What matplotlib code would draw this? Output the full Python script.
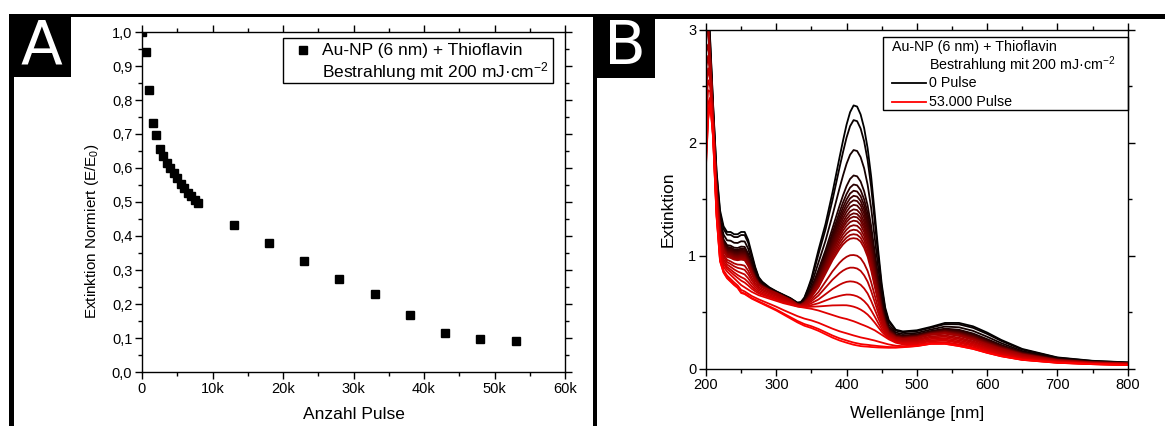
import numpy as np
import matplotlib
matplotlib.use("Agg")
import matplotlib.pyplot as plt
from matplotlib.patches import Rectangle
from matplotlib.lines import Line2D
from matplotlib.ticker import MultipleLocator, FuncFormatter

plt.rcParams['font.family'] = ['Liberation Sans', 'DejaVu Sans']
plt.rcParams['mathtext.default'] = 'regular'

# ---------------- Panel A data ----------------
pulses = [0, 500, 1000, 1500, 2000, 2500, 3000, 3500, 4000, 4500, 5000, 5500,
          6000, 6500, 7000, 7500, 8000, 13000, 18000, 23000, 28000, 33000,
          38000, 43000, 48000, 53000]
ext_norm = [1.0, 0.94, 0.829, 0.731, 0.697, 0.655, 0.636, 0.616, 0.599, 0.584,
            0.570, 0.553, 0.540, 0.527, 0.518, 0.506, 0.498, 0.431, 0.380,
            0.326, 0.274, 0.229, 0.169, 0.116, 0.097, 0.091]
xticks_A = [0, 10000, 20000, 30000, 40000, 50000, 60000]
xticklabels_A = ["0", "10k", "20k", "30k", "40k", "50k", "60k"]

# ---------------- Panel B data ----------------
wavelength = [200, 203, 206, 210, 215, 220, 225, 230, 235, 240, 245, 250, 255,
              260, 265, 270, 275, 280, 290, 300, 310, 320, 330, 335, 340, 345,
              350, 360, 370, 380, 390, 395, 400, 405, 410, 415, 420, 425, 430,
              435, 440, 445, 450, 455, 460, 470,
              480, 500, 520, 540, 560, 580, 600, 620, 650, 700, 750, 800]
# spectrum at 0 pulses
spec_0 = [3.6, 3.3, 2.9, 2.35, 1.75, 1.40, 1.26, 1.21, 1.21, 1.19, 1.19, 1.21, 1.21,
          1.14, 1.02, 0.90, 0.81, 0.77, 0.72, 0.685, 0.655, 0.625, 0.585, 0.59, 0.63, 0.71,
          0.80, 1.05, 1.28, 1.56, 1.87, 2.02, 2.16, 2.27, 2.33, 2.32, 2.25, 2.13, 1.95,
          1.70, 1.38, 1.05, 0.75, 0.54, 0.43, 0.345,
          0.33, 0.34, 0.37, 0.405, 0.405, 0.375, 0.32, 0.255, 0.175, 0.10, 0.07, 0.056]
# spectrum after ~8000 pulses (lowest of dense group)
spec_8k = [3.0, 3.0, 2.7, 2.2, 1.55, 1.18, 1.04, 0.99, 0.98, 0.965, 0.96, 0.965, 0.96,
           0.91, 0.84, 0.78, 0.74, 0.72, 0.69, 0.665, 0.635, 0.605, 0.565, 0.56, 0.575, 0.60,
           0.635, 0.72, 0.84, 0.96, 1.06, 1.10, 1.13, 1.15, 1.155, 1.15, 1.125, 1.07, 0.99,
           0.87, 0.73, 0.59, 0.46, 0.37, 0.31, 0.27,
           0.26, 0.27, 0.30, 0.31, 0.29, 0.255, 0.21, 0.17, 0.12, 0.072, 0.052, 0.045]
# spectrum after ~38000 pulses (no plasmon peak left)
spec_38k = [2.0, 2.35, 2.4, 2.1, 1.4, 1.0, 0.9, 0.86, 0.83, 0.80, 0.77, 0.74, 0.72,
            0.70, 0.68, 0.665, 0.65, 0.64, 0.62, 0.60, 0.58, 0.565, 0.55, 0.545, 0.54, 0.535,
            0.53, 0.515, 0.495, 0.475, 0.455, 0.447, 0.44, 0.43, 0.42, 0.408, 0.395, 0.383, 0.37,
            0.355, 0.34, 0.32, 0.30, 0.28, 0.26, 0.23,
            0.215, 0.215, 0.23, 0.235, 0.215, 0.19, 0.155, 0.12, 0.085, 0.058, 0.042, 0.035]
# spectrum after 53000 pulses
spec_53k = [1.8, 2.2, 2.35, 2.05, 1.35, 0.95, 0.85, 0.80, 0.77, 0.74, 0.715, 0.67, 0.66,
            0.64, 0.62, 0.605, 0.59, 0.575, 0.545, 0.515, 0.48, 0.445, 0.41, 0.395, 0.38, 0.37,
            0.36, 0.335, 0.305, 0.275, 0.25, 0.24, 0.23, 0.221, 0.212, 0.206, 0.20, 0.197, 0.195,
            0.192, 0.19, 0.188, 0.187, 0.186, 0.185, 0.186,
            0.19, 0.20, 0.22, 0.22, 0.20, 0.175, 0.14, 0.11, 0.078, 0.052, 0.04, 0.032]
peak_410 = [2.33, 2.20, 1.935, 1.71, 1.63, 1.575, 1.53, 1.49, 1.45, 1.41, 1.375,
            1.345, 1.31, 1.27, 1.23, 1.19, 1.155, 1.006, 0.894, 0.77, 0.65, 0.549,
            0.42, 0.29, 0.225, 0.205]

W, H = 1165, 426
fig = plt.figure(figsize=(W / 100, H / 100), dpi=100)


def fx(px):
    return px / W


def fy(py):
    return 1 - py / H


def frame(x0, x1, top_y, thick, box_x1, box_y1, letter, left_w):
    fig.add_artist(Rectangle((fx(x0), fy(top_y + thick)), fx(x1) - fx(x0), thick / H,
                             transform=fig.transFigure, color='black', lw=0))
    fig.add_artist(Rectangle((fx(x0), 0), left_w / W, fy(top_y),
                             transform=fig.transFigure, color='black', lw=0))
    fig.add_artist(Rectangle((fx(x0), fy(box_y1)), fx(box_x1) - fx(x0), (box_y1 - top_y) / H,
                             transform=fig.transFigure, color='black', lw=0))
    fig.text(fx((x0 + box_x1) / 2 + 1), fy((top_y + box_y1) / 2 + 2), letter, color='white',
             fontsize=44, ha='center', va='center', family='DejaVu Sans')


frame(9, 595, 14, 3, 71, 77, 'A', 5)
frame(593, 1165, 14, 5, 655, 78, 'B', 4.5)


def put_text(px, py, s, size, **kw):
    fig.text(fx(px), fy(py), s, fontsize=size, va='center', ha='left', **kw)


# ---------------- Panel A ----------------
axA = fig.add_axes([fx(142), fy(372), fx(565) - fx(142), (372 - 32) / H])
axA.plot(pulses, ext_norm, 's', color='black', markersize=6, linestyle='none')
axA.set_xlim(0, 60000)
axA.set_ylim(0, 1.0)
axA.set_xticks(xticks_A)
axA.set_xticklabels(xticklabels_A)
axA.xaxis.set_minor_locator(MultipleLocator(5000))
axA.yaxis.set_major_locator(MultipleLocator(0.1))
axA.yaxis.set_minor_locator(MultipleLocator(0.05))
axA.yaxis.set_major_formatter(FuncFormatter(lambda v, p: f"{v:.1f}".replace('.', ',')))
axA.set_xlabel("Anzahl Pulse", fontsize=12.5, va='center')
axA.xaxis.set_label_coords(0.5, -0.124)
axA.set_ylabel("Extinktion Normiert (E/E$_0$)", fontsize=11, va='center')
axA.yaxis.set_label_coords(-0.118, 0.415)

fig.add_artist(Rectangle((fx(283), fy(83)), fx(553) - fx(283), (83 - 38) / H,
                         transform=fig.transFigure, fill=False, lw=1.0, ec='black'))
fig.add_artist(Line2D([fx(303)], [fy(50)], marker='s', color='black', markersize=6,
                      transform=fig.transFigure, linestyle='none'))
put_text(322, 50, "Au-NP (6 nm) + Thioflavin", 12.5)
put_text(322, 72, "Bestrahlung mit 200 mJ·cm$^{-2}$", 12.5)

# ---------------- Panel B ----------------
axB = fig.add_axes([fx(706), fy(368.7), fx(1127.7) - fx(706), (368.7 - 29.7) / H])
anchor_pk = [0.205, 0.42, 1.155, 2.33]
anchor_spec = [np.array(spec_53k), np.array(spec_38k), np.array(spec_8k), np.array(spec_0)]
n = len(peak_410)
for i, p in enumerate(peak_410):
    j = int(np.clip(np.searchsorted(anchor_pk, p) - 1, 0, len(anchor_pk) - 2))
    t = (p - anchor_pk[j]) / (anchor_pk[j + 1] - anchor_pk[j])
    spec = (1 - t) * anchor_spec[j] + t * anchor_spec[j + 1]
    f = i / (n - 1)
    axB.plot(wavelength, spec, color=(f, 0, 0), lw=1.3, solid_joinstyle='round')
axB.set_xlim(200, 800)
axB.set_ylim(0, 3)
axB.xaxis.set_major_locator(MultipleLocator(100))
axB.xaxis.set_minor_locator(MultipleLocator(50))
axB.yaxis.set_major_locator(MultipleLocator(1))
axB.yaxis.set_minor_locator(MultipleLocator(0.5))
axB.set_xlabel("Wellenlänge [nm]", fontsize=12.5, va='center')
axB.xaxis.set_label_coords(0.5, -0.131)
axB.set_ylabel("Extinktion", fontsize=12.5, va='center')
axB.yaxis.set_label_coords(-0.090, 0.47)

fig.add_artist(Rectangle((fx(883), fy(110)), fx(1127.7) - fx(883), (110 - 37) / H,
                         transform=fig.transFigure, fill=False, lw=1.0, ec='black'))
put_text(892, 47, "Au-NP (6 nm) + Thioflavin", 10.3)
put_text(929, 65, "Bestrahlung mit 200 mJ·cm$^{-2}$", 10.3)
fig.add_artist(Line2D([fx(892), fx(926)], [fy(83), fy(83)], color='black', lw=1.3,
                      transform=fig.transFigure))
put_text(929, 83, "0 Pulse", 10.3)
fig.add_artist(Line2D([fx(892), fx(926)], [fy(102), fy(102)], color='red', lw=1.3,
                      transform=fig.transFigure))
put_text(929, 102, "53.000 Pulse", 10.3)

for ax in (axA, axB):
    ax.tick_params(which='both', top=True, right=True, direction='out', width=1.0,
                   colors='black')
    ax.tick_params(which='major', length=5, labelsize=10.5, pad=2)
    ax.tick_params(which='minor', length=3)
    for s in ax.spines.values():
        s.set_linewidth(1.0)

fig.savefig("out.png", dpi=100)
